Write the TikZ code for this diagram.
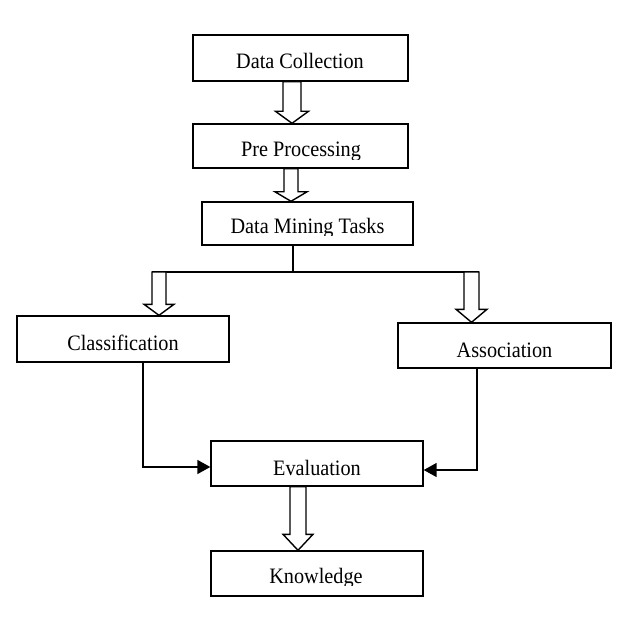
\documentclass[tikz,border=0pt]{standalone}
\usepackage{fontspec}
\setmainfont[FakeStretch=0.92]{Liberation Serif}
\usetikzlibrary{calc,arrows.meta}
\newcommand\blockarrow[5]{%
  \draw[blk] let \p1=#1, \p2=#2 in
    ($(\x1,\y1)+(-#3,0)$) -- ($(\x1,\y1)+(#3,0)$) -- ($(\x1,\y2)+(#3,-#5)$)
    -- ($(\x1,\y2)+(#4,-#5)$) -- (\x2,\y2) -- ($(\x1,\y2)+(-#4,-#5)$)
    -- ($(\x1,\y2)+(-#3,-#5)$) -- cycle;}
\begin{document}
\begin{tikzpicture}[x=1pt,y=-1pt,
  box/.style={draw,line width=1.4pt,inner sep=0pt},
  lbl/.style={anchor=base,inner sep=0pt,font=\fontsize{22}{26}\selectfont},
  blk/.style={draw,line width=1.4pt,fill=white,line join=miter},
  conn/.style={line width=1.5pt},
  tip/.style={-{Triangle[length=13pt,width=14pt]}}]
\useasboundingbox (0,0) rectangle (642,636);
% boxes
\node[box,minimum width=215pt,minimum height=46pt] (dc) at (300.5,58) {};
\node[box,minimum width=215pt,minimum height=44pt] (pp) at (300.5,146) {};
\node[box,minimum width=211pt,minimum height=43pt] (dm) at (307.5,223.5) {};
\node[box,minimum width=212pt,minimum height=46pt] (cl) at (123,339) {};
\node[box,minimum width=213pt,minimum height=45pt] (as) at (504.5,345.5) {};
\node[box,minimum width=212pt,minimum height=45pt] (ev) at (317,463.5) {};
\node[box,minimum width=212pt,minimum height=45pt] (kn) at (317,573.5) {};
% labels
\node[lbl] (tdc) at (300,69) {Data Collection};
\begin{scope}
\clip (195,126) rectangle (405,159.5);
\node[lbl] (tpp) at (301,157) {Pre Processing};
\end{scope}
\begin{scope}
\clip (204,204) rectangle (411,236);
\node[lbl] (tdm) at (307.5,234) {Data Mining Tasks};
\end{scope}
\node[lbl] (tcl) at (123,350) {Classification};
\node[lbl] (tas) at (504.5,357) {Association};
\node[lbl] (tev) at (317,475) {Evaluation};
\begin{scope}
\clip (213,553) rectangle (421,585);
\node[lbl] (tkn) at (316,583) {Knowledge};
\end{scope}
% junction lines
\coordinate (j) at (293,272);
\coordinate (jl) at (152,272);
\coordinate (jr) at (479,272);
\draw[conn] (dm.south -| j) -- (j);
\draw[conn] (jl) -- (jr);
% block arrows
\coordinate (a1) at (292,0);
\coordinate (a2) at (291,0);
\coordinate (a3) at (159,0);
\coordinate (a4) at (471.5,0);
\coordinate (a5) at (298,0);
\blockarrow{(dc.south -| a1)}{(pp.north -| a1)}{9}{16.5}{12}
\blockarrow{(pp.south -| a2)}{(dm.north -| a2)}{7}{16}{9.5}
\blockarrow{(jl -| a3)}{(cl.north -| a3)}{7}{15}{11}
\blockarrow{(jr -| a4)}{(as.north -| a4)}{7.5}{15.5}{13}
\blockarrow{(ev.south -| a5)}{(kn.north -| a5)}{8}{15}{16}
% side connectors
\coordinate (c1) at (143,467);
\coordinate (c2) at (477,470);
\draw[conn,tip] (cl.south -| c1) |- (ev.west |- c1);
\draw[conn,tip] (as.south -| c2) |- (ev.east |- c2);
\end{tikzpicture}
\end{document}
